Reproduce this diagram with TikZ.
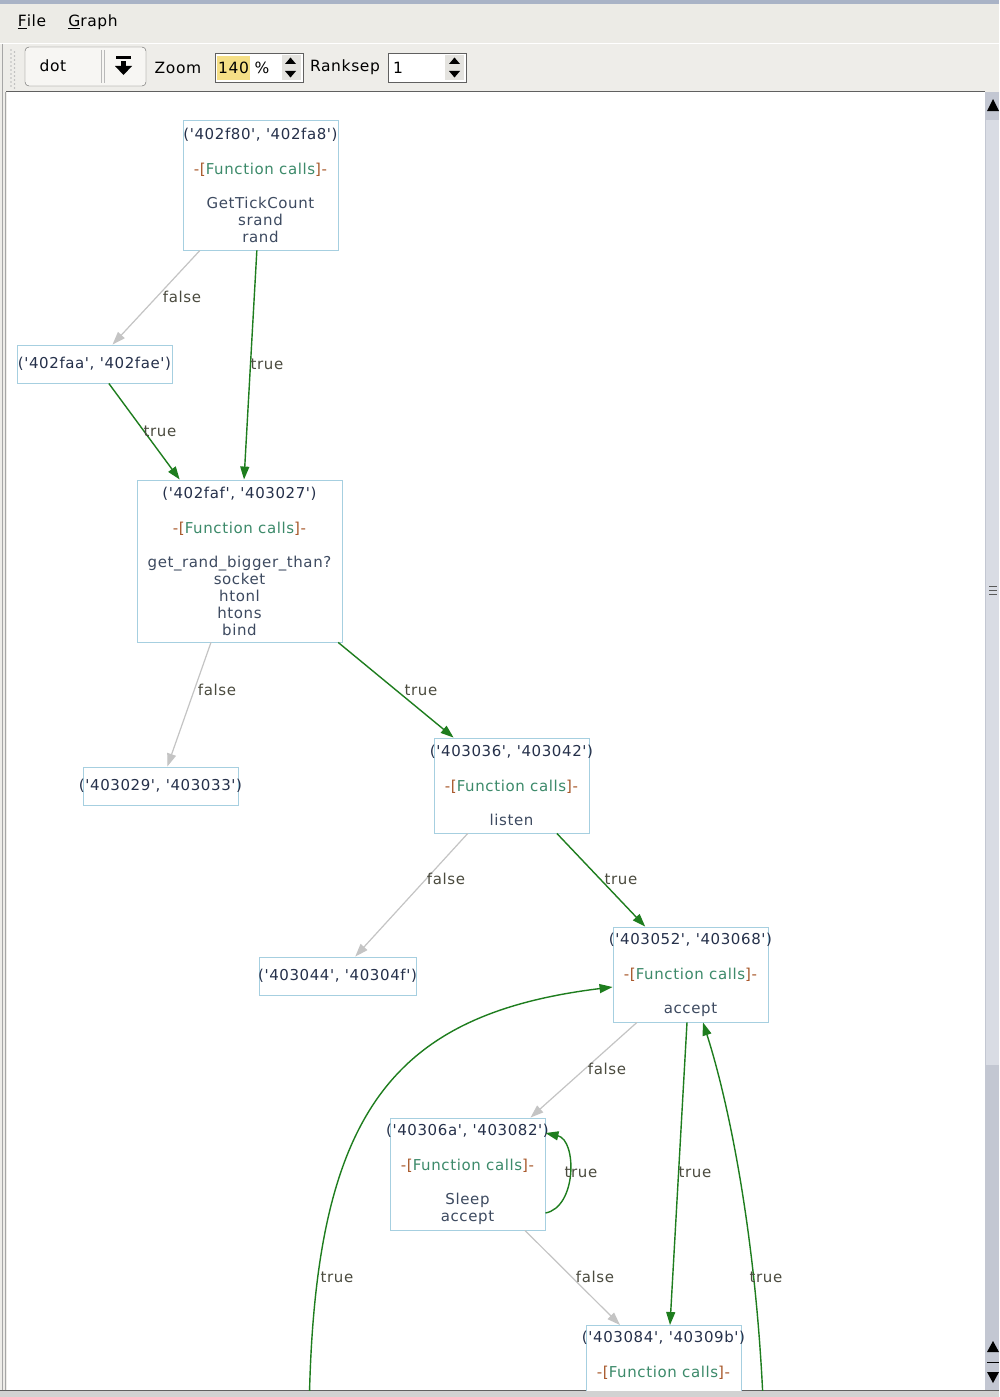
\documentclass[tikz,border=0pt]{standalone}
\usepackage{fontspec}
\setmainfont[Ligatures=TeXOff]{DejaVu Sans}
\newfontfamily\gfont[LetterSpace=4,Ligatures=TeXOff]{DejaVu Sans}
\usetikzlibrary{arrows.meta}
\definecolor{nodeblue}{HTML}{A6CFE0}
\definecolor{tgreen}{HTML}{1E7D1E}
\definecolor{fgray}{HTML}{C4C4C4}
\definecolor{addrc}{HTML}{25304A}
\definecolor{brk}{HTML}{A8582A}
\definecolor{fcc}{HTML}{3C8A6A}
\definecolor{fnc}{HTML}{3D4A60}
\definecolor{lblc}{HTML}{4B4B3F}
\definecolor{menubg}{HTML}{ECEBE6}
\definecolor{toolbg}{HTML}{EEEDE9}
\definecolor{topband}{HTML}{A9B3C6}
\definecolor{combobg}{HTML}{F7F6F3}
\definecolor{yellowhl}{HTML}{F5DF86}
\definecolor{spinbg}{HTML}{E4E3DF}
\definecolor{sbtrough}{HTML}{C3C7D2}
\definecolor{sbthumb}{HTML}{D9DCE4}
\newcommand\addr[2]{\makebox[150pt]{\textcolor{addrc}{('#1', '#2')}}}
\newcommand\fcalls{\textcolor{brk}{-[}\textcolor{fcc}{Function calls}\textcolor{brk}{]-}}
\tikzset{
  blk/.style={draw=nodeblue, line width=0.9pt, fill=white, inner sep=0pt, align=center,
    text=fnc, font=\gfont\fontsize{15}{17}\selectfont, minimum width=155pt},
  lbl/.style={text=lblc, font=\gfont\fontsize{15}{17}\selectfont, inner sep=0pt},
  tarr/.style={draw=tgreen, line width=1.4pt, -{Triangle[length=13pt,width=9pt]}},
  farr/.style={draw=fgray, line width=1.2pt, -{Triangle[length=13pt,width=9pt]}},
  ui/.style={font=\gfont\fontsize{15.5}{18}\selectfont, text=black, inner sep=0pt},
}
\begin{document}
\begin{tikzpicture}[x=1pt,y=-1pt]
\useasboundingbox (0,0) rectangle (999,1397);
% window chrome
\fill[toolbg] (0,0) rectangle (999,1397);
\fill[topband] (0,0) rectangle (999,4);
\fill[menubg] (0,4) rectangle (999,43);
\draw[white] (0,43.5) -- (999,43.5);
\node[ui] (mfile) at (32,22) {\underline{F}ile};
\node[ui] (mgraph) at (93,22) {\underline{G}raph};
% grip
\foreach \yy in {50,54,...,86} {\fill[gray!55] (11,\yy) circle (0.9); \fill[gray!55] (14.5,\yy+2) circle (0.9);}
% combo
\draw[draw=gray!75!black, fill=combobg, rounded corners=4pt] (25,47) rectangle (146,86);
\draw[gray!55] (101.5,50) -- (101.5,83);
\draw[gray!55] (104.5,50) -- (104.5,83);
\node[ui] (dotlbl) at (53,66) {dot};
\fill (116,56.5) rectangle (131,59);
\fill (121,61.5) rectangle (126,67);
\fill (115,66) -- (132,66) -- (123.5,75) -- cycle;
\node[ui] (zoomlbl) at (178,68) {Zoom};
% spin 1
\draw[gray!75!black, fill=white] (215,53) rectangle (303,82);
\fill[yellowhl] (217,56) rectangle (250,80);
\fill[spinbg] (282,55) rectangle (301,80);
\node[ui] (zoomval) at (233.5,68) {140};
\node[ui] (pct) at (262,68) {\%};
\fill (285,64) -- (296,64) -- (290.5,57.5) -- cycle;
\fill (285,71) -- (296,71) -- (290.5,77.5) -- cycle;
\node[ui] (rslbl) at (345,67) {Ranksep};
% spin 2
\draw[gray!75!black, fill=white] (388,53) rectangle (466,82);
\fill[spinbg] (445,55) rectangle (464,80);
\node[ui] (rsval) at (398,68) {1};
\fill (449,64) -- (460,64) -- (454.5,57.5) -- cycle;
\fill (449,71) -- (460,71) -- (454.5,77.5) -- cycle;
% canvas frame
\fill[white] (7,92) rectangle (985,1390);
\draw[gray!75!black] (6,91.5) -- (985,91.5);
\draw[gray!70] (2,44) -- (2,1397);
\draw[gray!70] (5.5,92) -- (5.5,1390);
\fill[gray!35] (0,1390) rectangle (999,1397);
\draw[gray!75!black] (0,1390.5) -- (999,1390.5);
% scrollbar
\fill[sbtrough] (985,92) rectangle (999,1390);
\fill[sbthumb] (986,120) rectangle (999,1065);
\fill (987,111) -- (999,111) -- (993,99) -- cycle;
\foreach \yy in {586,590,594} \draw[gray!70!black] (989,\yy) -- (997,\yy);
\fill (987,1352) -- (999,1352) -- (993,1341) -- cycle;
\draw[black, line width=1pt] (987,1362) -- (999,1362);
\fill (987,1372) -- (999,1372) -- (993,1383) -- cycle;
% graph
\begin{scope}
\clip (7,92) rectangle (985,1390);
\node[blk, minimum height=130pt] (n1) at (260.5,185) {\addr{402f80}{402fa8}\\[18pt]\fcalls\\[17pt]GetTickCount\\srand\\rand};
\node[blk, minimum height=38pt] (n2) at (94.5,364) {\addr{402faa}{402fae}};
\node[blk, minimum height=162pt, minimum width=205pt] (n3) at (239.5,561) {\addr{402faf}{403027}\\[18pt]\fcalls\\[17pt]get\_rand\_bigger\_than?\\socket\\htonl\\htons\\bind};
\node[blk, minimum height=38pt] (n4) at (160.5,786) {\addr{403029}{403033}};
\node[blk, minimum height=95pt] (n5) at (511.5,785.5) {\addr{403036}{403042}\\[18pt]\fcalls\\[17pt]listen};
\node[blk, minimum height=38pt, minimum width=157pt] (n6) at (337.5,976) {\addr{403044}{40304f}};
\node[blk, minimum height=95pt] (n7) at (690.5,974.5) {\addr{403052}{403068}\\[18pt]\fcalls\\[17pt]accept};
\node[blk, minimum height=112pt] (n8) at (467.5,1174) {\addr{40306a}{403082}\\[18pt]\fcalls\\[17pt]Sleep\\accept};
\node[blk, anchor=north, inner ysep=6pt, text depth=90pt] (n9) at (663.5,1325) {\addr{403084}{40309b}\\[18pt]\fcalls};
\coordinate (srcL) at (309,1425);
\coordinate (srcR) at (764,1425);
% edges
\draw[farr] (n1) -- (n2);
\draw[tarr] (n1) -- (n3);
\draw[tarr] (n2) -- (n3);
\draw[farr] (n3) -- (n4);
\draw[tarr] (n3) -- (n5);
\draw[farr] (n5) -- (n6);
\draw[tarr] (n5) -- (n7);
\draw[farr] (n7) -- (n8);
\draw[tarr] ([yshift=-39pt]n8.east) .. controls (577,1207) and (577,1140) .. ([yshift=41pt]n8.east);
\draw[tarr] ([xshift=-3.5pt]n7.south) -- ([xshift=6.5pt]n9.north);
\draw[farr] ([xshift=57.5pt]n8.south) -- ([xshift=-43.5pt]n9.north);
\draw[tarr] (srcL) .. controls (311,1120) and (385,1015) .. ([yshift=-12.5pt]n7.west);
\draw[tarr] (srcR) .. controls (758,1240) and (728,1100) .. ([xshift=12.5pt]n7.south);
% edge labels
\node[lbl] (l1) at (182,297) {false};
\node[lbl] (l2) at (267,364) {true};
\node[lbl] (l3) at (160,431) {true};
\node[lbl] (l4) at (217,690) {false};
\node[lbl] (l5) at (421,690) {true};
\node[lbl] (l6) at (446,879) {false};
\node[lbl] (l7) at (621,879) {true};
\node[lbl] (l8) at (607,1069) {false};
\node[lbl] (l9) at (581,1172) {true};
\node[lbl] (l10) at (695,1172) {true};
\node[lbl] (l11) at (595,1277) {false};
\node[lbl] (l12) at (337,1277) {true};
\node[lbl] (l13) at (766,1277) {true};
\end{scope}
\end{tikzpicture}
\end{document}
